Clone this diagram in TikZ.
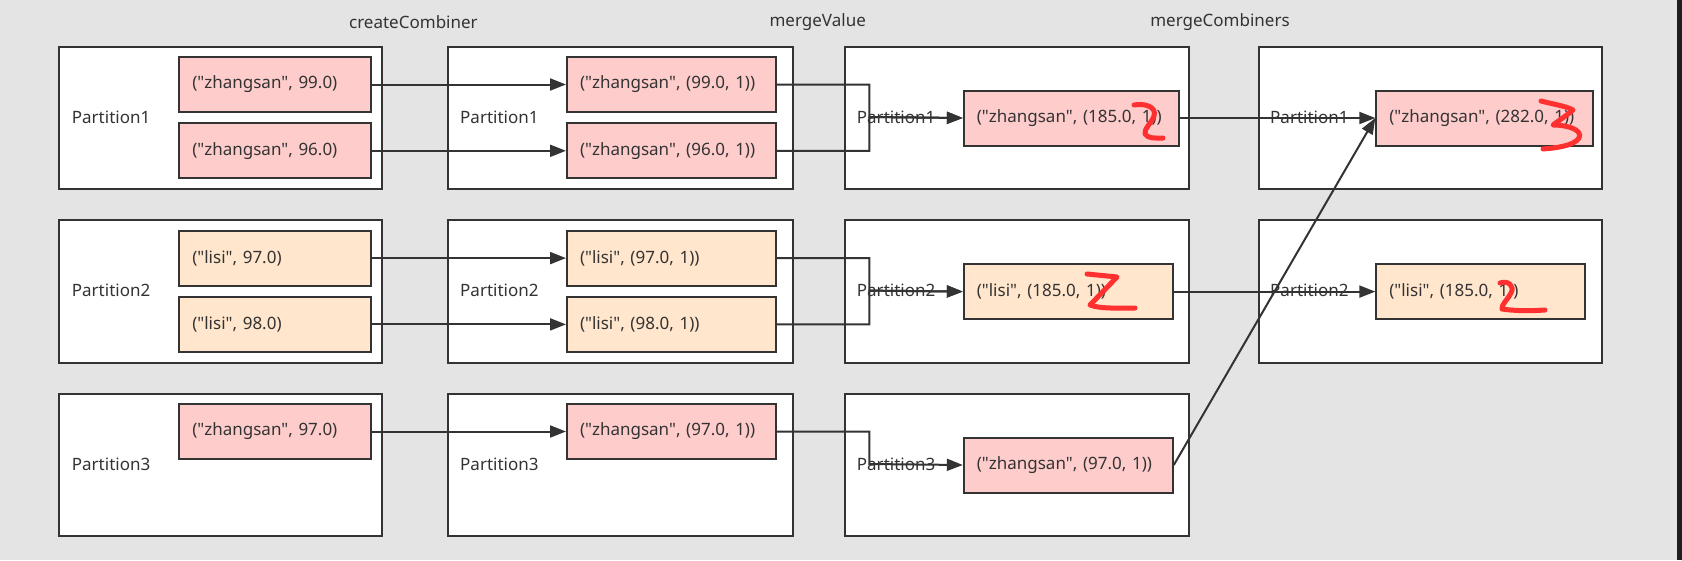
\documentclass[tikz,border=0pt]{standalone}
\usepackage{fontspec}
\setmainfont{Noto Sans}
\newfontfamily\dfam{Noto Sans}
\usetikzlibrary{arrows.meta}
\definecolor{bgc}{HTML}{E4E4E4}
\definecolor{ink}{HTML}{333333}
\definecolor{pinkf}{HTML}{FFCCCC}
\definecolor{peachf}{HTML}{FFE6CC}
\definecolor{scrib}{HTML}{FF3030}
\definecolor{edgestrip}{HTML}{1E1E1E}
\newcommand\dtxt{\dfam\fontsize{17pt}{20pt}\selectfont}
\begin{document}
\begin{tikzpicture}[x=1pt,y=-1pt,
  outerbox/.style={draw=ink, line width=2pt, fill=white, anchor=north west, inner sep=0pt, minimum height=142.6pt},
  item/.style={draw=ink, line width=2pt, anchor=north west, inner xsep=13pt, inner ysep=0pt, minimum height=55pt, align=left, font=\dtxt, text=ink},
  pk/.style={item, fill=pinkf},
  pc/.style={item, fill=peachf},
  plabel/.style={anchor=west, inner sep=0pt, font=\dtxt, text=ink},
  title/.style={inner sep=0pt, font=\dtxt, text=ink},
  conn/.style={draw=ink, line width=2pt, -{Triangle[length=16pt,width=12pt]}},
  scribble/.style={draw=scrib, line width=5pt, line cap=round, line join=round}
]
\useasboundingbox (0,0) rectangle (1682,560);
\fill[bgc] (0,0) rectangle (1682,560);
\fill[edgestrip] (1677,0) rectangle (1682,560);

% titles
\node[title] (t1) at (413.4,22.5) {createCombiner};
\node[title] (t2) at (817.7,22.5) {mergeValue};
\node[title] (t3) at (1220,22.5) {mergeCombiners};

% outer boxes
\node[outerbox, minimum width=322.4pt] (o11) at (58.3,45.7) {};
\node[outerbox, minimum width=322.4pt] (o12) at (58.3,219.3) {};
\node[outerbox, minimum width=322.4pt] (o13) at (58.3,392.7) {};
\node[outerbox, minimum width=344.4pt] (o21) at (447.3,45.7) {};
\node[outerbox, minimum width=344.4pt] (o22) at (447.3,219.3) {};
\node[outerbox, minimum width=344.4pt] (o23) at (447.3,392.7) {};
\node[outerbox, minimum width=343.5pt] (o31) at (844,45.7) {};
\node[outerbox, minimum width=343.5pt] (o32) at (844,219.3) {};
\node[outerbox, minimum width=343.5pt] (o33) at (844,392.7) {};
\node[outerbox, minimum width=343.8pt] (o41) at (1257.5,45.7) {};
\node[outerbox, minimum width=343.8pt] (o42) at (1257.5,219.3) {};

% partition labels
\node[plabel] (l11) at (71.7,117) {Partition1};
\node[plabel] (l12) at (71.7,290.6) {Partition2};
\node[plabel] (l13) at (71.7,464) {Partition3};
\node[plabel] (l21) at (460,117) {Partition1};
\node[plabel] (l22) at (460,290.6) {Partition2};
\node[plabel] (l23) at (460,464) {Partition3};
\node[plabel] (l31) at (856.7,117) {Partition1};
\node[plabel] (l32) at (856.7,290.6) {Partition2};
\node[plabel] (l33) at (856.7,464) {Partition3};
\node[plabel] (l41) at (1270,117) {Partition1};
\node[plabel] (l42) at (1270,290.6) {Partition2};

% column 1 items
\node[pk, text width=165.7pt] (a11) at (178.3,56) {("zhangsan", 99.0)};
\node[pk, text width=165.7pt] (b11) at (178.3,122.3) {("zhangsan", 96.0)};
\node[pc, text width=165.7pt] (a12) at (178.3,229.6) {("lisi", 97.0)};
\node[pc, text width=165.7pt] (b12) at (178.3,295.9) {("lisi", 98.0)};
\node[pk, text width=165.7pt] (a13) at (178.3,403) {("zhangsan", 97.0)};

% column 2 items
\node[pk, text width=183pt] (a21) at (566,56) {("zhangsan", (99.0, 1))};
\node[pk, text width=183pt] (b21) at (566,122.3) {("zhangsan", (96.0, 1))};
\node[pc, text width=183pt] (a22) at (566,229.6) {("lisi", (97.0, 1))};
\node[pc, text width=183pt] (b22) at (566,295.9) {("lisi", (98.0, 1))};
\node[pk, text width=183pt] (a23) at (566,403) {("zhangsan", (97.0, 1))};

% column 3 items
\node[pk, text width=189pt] (a31) at (962.8,89.5) {("zhangsan", (185.0, 1))};
\node[pc, text width=183pt] (a32) at (962.8,263.1) {("lisi", (185.0, 1))};
\node[pk, text width=183pt] (a33) at (962.8,436.5) {("zhangsan", (97.0, 1))};

% column 4 items
\node[pk, text width=190.7pt] (a41) at (1375.3,89.5) {("zhangsan", (282.0, 1))};
\node[pc, text width=183pt] (a42) at (1375.3,263.1) {("lisi", (185.0, 1))};

% junction points of merging edges
\coordinate (j1) at (869.3,117);
\coordinate (j2) at (869.3,290.6);
\coordinate (j3) at (869.3,464);

% createCombiner
\draw[conn] (a11.east) -- (a21.west);
\draw[conn] (b11.east) -- (b21.west);
\draw[conn] (a12.east) -- (a22.west);
\draw[conn] (b12.east) -- (b22.west);
\draw[conn] (a13.east) -- (a23.west);

% mergeValue
\draw[conn] (a21.east) -| (j1) -- (a31.west);
\draw[conn] (b21.east) -| (j1) -- (a31.west);
\draw[conn] (a22.east) -| (j2) -- (a32.west);
\draw[conn] (b22.east) -| (j2) -- (a32.west);
\draw[conn] (a23.east) -| (j3) -- (a33.west);

% mergeCombiners
\draw[conn] (a31.east) -- (a41.west);
\draw[conn] (a32.east) -- (a42.west);
\draw[conn] (a33.east) -- (a41.west);

% red handwritten marks
\draw[scribble] (1134,105) .. controls (1145,103) and (1157,107) .. (1154,116)
  .. controls (1151,124) and (1144,128) .. (1145,134)
  .. controls (1148,139) and (1156,138) .. (1163,138);
\draw[scribble] (1087,274) -- (1117,277) -- (1090,305)
  .. controls (1100,309) and (1120,308) .. (1135,308);
\draw[scribble] (1541,101) .. controls (1552,104) and (1566,106) .. (1573,110)
  .. controls (1566,116) and (1558,121) .. (1553,125)
  .. controls (1568,125) and (1583,130) .. (1579,138)
  .. controls (1574,146) and (1555,148) .. (1543,149);
\draw[scribble] (1500,283) .. controls (1508,280) and (1515,286) .. (1511,293)
  .. controls (1508,299) and (1501,305) .. (1502,309)
  .. controls (1515,311) and (1530,311) .. (1545,310);
\end{tikzpicture}
\end{document}
